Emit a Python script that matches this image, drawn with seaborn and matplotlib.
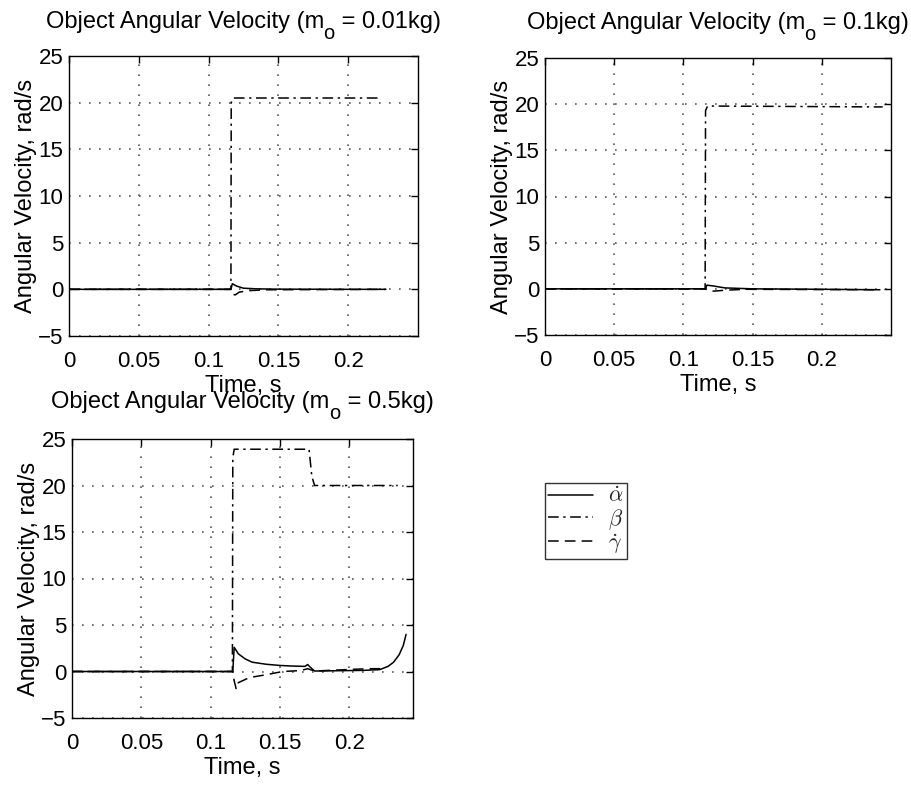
import numpy as np
import pandas as pd
import matplotlib
matplotlib.use("Agg")
import matplotlib.pyplot as plt
from matplotlib.font_manager import FontProperties
from matplotlib.lines import Line2D
import seaborn as sns

# ---- data: object angular velocity for three object masses ----
masses = ["0.01", "0.1", "0.5"]

# m_o = 0.01 kg
t_alpha_1 = [0.0, 0.1160, 0.1170, 0.1200, 0.1250, 0.1350, 0.1500, 0.2000, 0.2270]
alpha_1   = [0.0, 0.00,   0.60,   0.35,   0.12,   0.05,   0.02,   0.00,   0.00]
t_beta_1  = [0.0, 0.1160, 0.1162, 0.1175, 0.2220]
beta_1    = [0.0, 0.00,   20.0,   20.5,   20.5]
t_gamma_1 = [0.0, 0.1160, 0.1170, 0.1190, 0.1220, 0.1280, 0.1400, 0.2270]
gamma_1   = [0.0, 0.00,   -0.50,  -0.60,  -0.30,  -0.15,  -0.05,  0.00]

# m_o = 0.1 kg
t_alpha_2 = [0.0, 0.1160, 0.1170, 0.1220, 0.1300, 0.1500, 0.2000, 0.2420]
alpha_2   = [0.0, 0.00,   0.40,   0.30,   0.10,   0.00,   -0.05,  -0.10]
t_beta_2  = [0.0, 0.1157, 0.1160, 0.1175, 0.2440]
beta_2    = [0.0, 0.00,   19.3,   19.8,   19.7]
t_gamma_2 = [0.0, 0.1160, 0.1180, 0.1220, 0.1300, 0.1450, 0.2400]
gamma_2   = [0.0, 0.00,   -0.20,  -0.25,  -0.15,  -0.05,  -0.10]

# m_o = 0.5 kg
t_alpha_3 = [0.0, 0.1160, 0.1170, 0.1200, 0.1250, 0.1300, 0.1400, 0.1500,
             0.1600, 0.1680, 0.1700, 0.1720, 0.1750, 0.1900, 0.2100, 0.2220,
             0.2280, 0.2320, 0.2360, 0.2390, 0.2410]
alpha_3   = [0.0, 0.00,   2.60,   1.90,   1.35,   1.00,   0.78,   0.65,
             0.58,   0.55,   0.75,   0.45,   0.05,   0.08,   0.12,   0.20,
             0.55,   1.00,   1.80,   2.80,   4.00]
t_beta_3  = [0.0, 0.1157, 0.1160, 0.1170, 0.1710, 0.1730, 0.1750, 0.2350]
beta_3    = [0.0, 0.00,   23.0,   23.9,   23.9,   21.0,   20.0,   20.0]
t_gamma_3 = [0.0, 0.1160, 0.1170, 0.1185, 0.1200, 0.1280, 0.1400, 0.1520,
             0.1650, 0.1700, 0.1750, 0.1900, 0.2050, 0.2150, 0.2250]
gamma_3   = [0.0, 0.00,   -1.00,  -1.90,  -1.20,  -0.65,  -0.35,  0.00,
             0.10,   0.30,   0.05,   0.15,   0.25,   0.30,   0.30]

series = {
    "0.01": [(t_alpha_1, alpha_1), (t_beta_1, beta_1), (t_gamma_1, gamma_1)],
    "0.1":  [(t_alpha_2, alpha_2), (t_beta_2, beta_2), (t_gamma_2, gamma_2)],
    "0.5":  [(t_alpha_3, alpha_3), (t_beta_3, beta_3), (t_gamma_3, gamma_3)],
}
xlims = {"0.01": 0.25, "0.1": 0.25, "0.5": 0.246}

x_ticks = [0, 0.05, 0.1, 0.15, 0.2]
x_ticklabels = ["0", "0.05", "0.1", "0.15", "0.2"]
y_ticks = [-5, 0, 5, 10, 15, 20, 25]
y_ticklabels = ["\u22125", "0", "5", "10", "15", "20", "25"]

legend_labels = [r"$\dot{\alpha}$", r"$\beta$", r"$\dot{\gamma}$"]
styles = ["-", (0, (7, 3, 1.5, 3)), (0, (7, 4))]

# ---- styling ----
sns.set_theme(style="white")
plt.rcParams["font.family"] = ["Liberation Sans", "DejaVu Sans"]
plt.rcParams["axes.edgecolor"] = "black"
plt.rcParams["axes.linewidth"] = 1.0

W, H = 912, 789
fig = plt.figure(figsize=(W / 100, H / 100), dpi=100)
fig.patch.set_facecolor("white")
renderer = fig.canvas.get_renderer()

boxes = {  # left, top, right, bottom in pixels
    "0.01": (69, 56, 418, 336),
    "0.1": (545, 58, 891, 335),
    "0.5": (72, 439, 413, 718),
}
title_baseline = {"0.01": 28, "0.1": 29, "0.5": 408}

FS_TICK = 16
FS_LAB = 17


def text_width(s, fs):
    t = fig.text(0, 0, s, fontsize=fs)
    w = t.get_window_extent(renderer).width
    t.remove()
    return w


def subscript_title(cx, base_y, mass, fs):
    """Title with a full-height, lowered subscript 'o' after the 'm'."""
    pre = "Object Angular Velocity (m"
    sub = "o"
    post = " = " + mass + "kg)"
    w_pre = text_width(pre, fs)
    w_sub = text_width(sub, fs * 0.85)
    w_post = text_width(post, fs)
    x0 = cx - (w_pre + w_sub + w_post) / 2
    y = H - base_y
    fig.text(x0 / W, y / H, pre, fontsize=fs, va="baseline", ha="left", color="black")
    fig.text((x0 + w_pre - 1) / W, (y - 11) / H, sub, fontsize=fs * 0.85,
             va="baseline", ha="left", color="black")
    fig.text((x0 + w_pre + w_sub) / W, y / H, post, fontsize=fs,
             va="baseline", ha="left", color="black")


for m in masses:
    l, t, r, b = boxes[m]
    ax = fig.add_axes([l / W, 1 - b / H, (r - l) / W, (b - t) / H])
    for (tt, vv), ls in zip(series[m], styles):
        df = pd.DataFrame({"t": tt, "v": vv})
        sns.lineplot(data=df, x="t", y="v", ax=ax, color="black",
                     linewidth=1.1, sort=False, estimator=None)
        ax.lines[-1].set_linestyle(ls)
    ax.set_xlim(0, xlims[m])
    ax.set_ylim(-5, 25)
    ax.set_xticks(x_ticks)
    ax.set_xticklabels(x_ticklabels, fontsize=FS_TICK)
    ax.set_yticks(y_ticks)
    ax.set_yticklabels(y_ticklabels, fontsize=FS_TICK)
    ax.tick_params(direction="in", length=5, width=1, top=True, right=True,
                   color="black", labelcolor="black")
    ax.tick_params(axis="x", pad=11)
    ax.tick_params(axis="y", pad=4)
    ax.grid(True, color="0.35", linestyle=(0, (1, 5)), linewidth=1.2)
    ax.set_xlabel("Time, s", fontsize=FS_LAB, labelpad=2, color="black")
    ax.set_ylabel("Angular Velocity, rad/s", fontsize=FS_LAB, labelpad=1, color="black")
    for s in ax.spines.values():
        s.set_visible(True)
        s.set_color("black")
    subscript_title((l + r) / 2, title_baseline[m], m, FS_LAB)

handles = [Line2D([], [], color="black", linewidth=1.1, linestyle=ls) for ls in styles]
leg = fig.legend(handles, legend_labels, loc="upper left",
                 bbox_to_anchor=(545 / W, 1 - 483 / H),
                 prop=FontProperties(size=16, math_fontfamily="cm"),
                 frameon=True, fancybox=False, handlelength=2.0,
                 borderpad=0.15, labelspacing=0.0, handletextpad=0.7,
                 borderaxespad=0)
leg.get_frame().set_edgecolor("black")
leg.get_frame().set_linewidth(1.0)

fig.savefig("out.png", dpi=100, facecolor="white")
